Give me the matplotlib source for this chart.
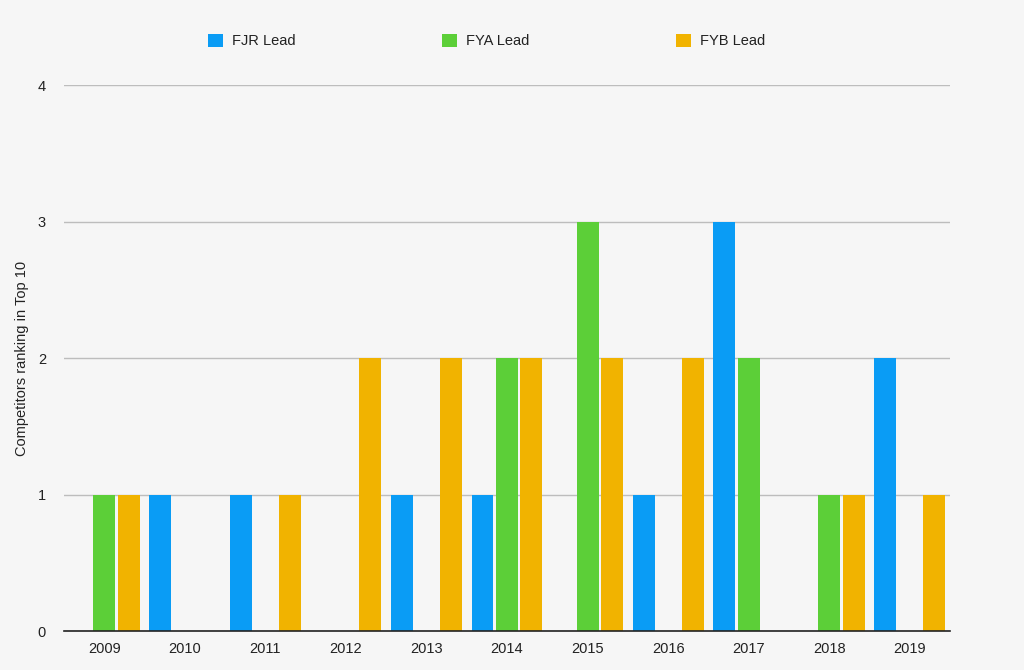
import matplotlib
matplotlib.use("Agg")
import matplotlib.pyplot as plt
import numpy as np

years = ["2009", "2010", "2011", "2012", "2013", "2014", "2015", "2016", "2017", "2018", "2019"]
fjr = [0, 1, 1, 0, 1, 1, 0, 1, 3, 0, 2]
fya = [1, 0, 0, 0, 0, 2, 3, 0, 2, 1, 0]
fyb = [1, 0, 1, 2, 2, 2, 2, 2, 0, 1, 1]
series_names = ["FJR Lead", "FYA Lead", "FYB Lead"]
colors = ["#0a9cf5", "#5ccf38", "#f1b300"]

plt.rcParams['font.family'] = ['Liberation Sans', 'DejaVu Sans']
bg = "#f6f6f6"
fig = plt.figure(figsize=(10.24, 6.70), dpi=100, facecolor=bg)
ax = fig.add_axes([0.0625, 0.0582, 0.8652, 0.8148], facecolor=bg)

x = np.arange(len(years))
off = 0.304
w = 0.273
handles = []
for i, (vals, name, c) in enumerate(zip([fjr, fya, fyb], series_names, colors)):
    b = ax.bar(x + (i - 1) * off, vals, width=w, color=c, label=name, zorder=3, linewidth=0)
    handles.append(b)

ax.set_xlim(-0.5, len(years) - 0.5)
ax.set_ylim(0, 4)
ax.set_yticks([0, 1, 2, 3, 4])
ax.set_xticks(x)
ax.set_xticklabels(years)
ax.yaxis.grid(True, color="#bdbdbd", linewidth=1.0, zorder=0)
ax.set_axisbelow(True)
for s in ["top", "right", "left"]:
    ax.spines[s].set_visible(False)
ax.spines["bottom"].set_color("#222222")
ax.spines["bottom"].set_linewidth(1.2)
ax.spines["bottom"].set_zorder(4)
ax.tick_params(axis="both", length=0, labelsize=10.5, colors="#222222")
ax.tick_params(axis="y", pad=13)
ax.tick_params(axis="x", pad=8)
ax.set_ylabel("Competitors ranking in Top 10", fontsize=10.5, color="#222222")
ax.yaxis.set_label_coords(-0.0395, 0.5)

leg = fig.legend(handles=handles, labels=series_names, loc="center", ncol=3,
                 bbox_to_anchor=(0.475, 0.939), frameon=False, fontsize=10.5,
                 handlelength=1.05, handleheight=1.05, handletextpad=0.6,
                 columnspacing=10.05)
for t in leg.get_texts():
    t.set_color("#222222")

fig.savefig("out.png", dpi=100, facecolor=bg)
